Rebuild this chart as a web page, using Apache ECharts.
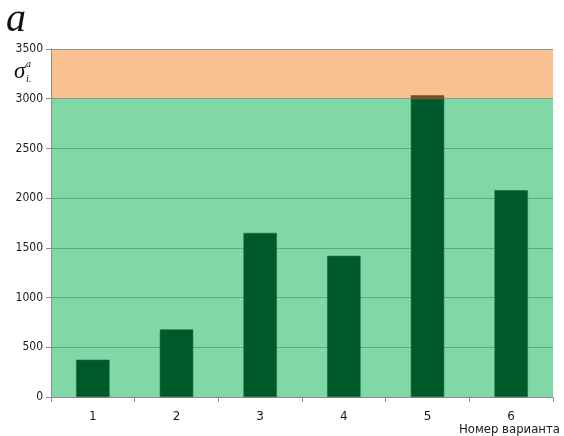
<!DOCTYPE html>
<html>
<head>
<meta charset="utf-8">
<script src="https://cdn.jsdelivr.net/npm/echarts@6/dist/echarts.min.js"></script>
<style>
html,body{margin:0;padding:0;background:#fff;}
#chart{width:564px;height:436px;}
</style>
</head>
<body>
<div id="chart"></div>
<script>
// Variant numbers and stress values
const categories = ['1', '2', '3', '4', '5', '6'];
const stressValues = [375, 680, 1650, 1420, 3035, 2080];
// Permissible limit separating the two zones
const limitValue = 3000;
const yTicks = [0, 500, 1000, 1500, 2000, 2500, 3000, 3500];

// Part of each bar below the limit and the part exceeding it
const withinLimit = stressValues.map(v => Math.min(v, limitValue));
const overLimit = stressValues.map(v => Math.max(v - limitValue, 0));

const green = '#80d8a7';
const orange = '#f9c090';
// one band colour per 500-step interval
const bandColors = yTicks.slice(1).map(t => (t <= limitValue ? green : orange));

const chart = echarts.init(document.getElementById('chart'), null, { renderer: 'canvas' });
chart.setOption({
  animation: false,
  grid: { left: 51, right: 11, top: 49, bottom: 39 },
  xAxis: {
    type: 'category',
    data: categories,
    axisLine: { lineStyle: { color: '#8c8c8c', width: 1 } },
    axisTick: { show: true, length: 5, lineStyle: { color: '#8c8c8c' } },
    axisLabel: { color: '#1a1a1a', fontFamily: 'DejaVu Sans', fontSize: 12, margin: 14 }
  },
  yAxis: {
    type: 'value',
    min: yTicks[0],
    max: yTicks[yTicks.length - 1],
    interval: 500,
    axisLine: { show: true, lineStyle: { color: '#8c8c8c' } },
    axisTick: { show: true, length: 5, lineStyle: { color: '#8c8c8c' } },
    axisLabel: {
      color: '#1a1a1a', fontFamily: 'DejaVu Sans Condensed', fontSize: 12, margin: 8,
      formatter: v => String(v)
    },
    splitArea: { show: true, areaStyle: { color: bandColors, opacity: 1 } },
    splitLine: {
      show: true,
      lineStyle: {
        color: yTicks.slice(0, -1).map(t => (t === 0 || t >= limitValue ? '#8a9a90' : '#55b07e')),
        width: 1
      }
    }
  },
  series: [
    {
      type: 'bar',
      stack: 'stress',
      data: withinLimit,
      barWidth: '40%',
      itemStyle: { color: '#00592b', borderColor: '#1d7040', borderWidth: 0.6 }
    },
    {
      type: 'bar',
      stack: 'stress',
      data: overLimit,
      barWidth: '40%',
      itemStyle: { color: '#7a4a22' }
    }
  ],
  graphic: [
    {
      type: 'text', left: 6, top: 0,
      style: { text: 'a', font: 'italic 40px "Liberation Serif"', fill: '#111' }
    },
    {
      type: 'text', left: 14, top: 60,
      style: { text: 'σ', font: 'italic 23px "Liberation Serif"', fill: '#111' }
    },
    {
      type: 'text', left: 26, top: 59,
      style: { text: 'a', font: 'italic 10px "Liberation Serif"', fill: '#111' }
    },
    {
      type: 'text', left: 26, top: 74,
      style: { text: 'i.', font: 'italic 10px "Liberation Serif"', fill: '#111' }
    },
    {
      type: 'text', right: 4, top: 423,
      style: { text: 'Номер варианта', font: '13px "DejaVu Sans Condensed"', fill: '#1a1a1a' }
    }
  ]
});
</script>
</body>
</html>
